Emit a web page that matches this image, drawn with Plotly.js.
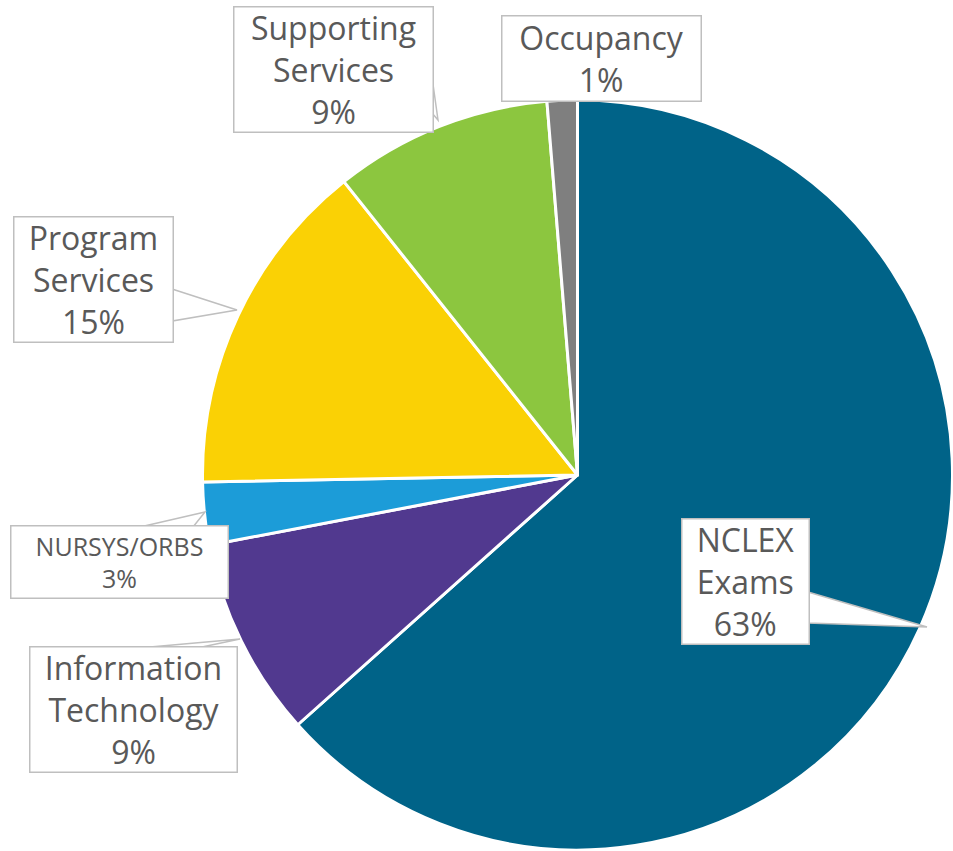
<!DOCTYPE html>
<html>
<head>
<meta charset="utf-8">
<script src="https://cdn.plot.ly/plotly-3.0.1.min.js"></script>
<style>
  html, body { margin: 0; padding: 0; background: #fff; }
  #chart { width: 953px; height: 851px; }
</style>
</head>
<body>
<div id="chart"></div>
<script>
const labels = ["NCLEX Exams", "Information Technology", "NURSYS/ORBS", "Program Services", "Supporting Services", "Occupancy"];
const values = [63.4, 8.6, 2.7, 14.6, 9.4, 1.3];
const colors = ["#006388", "#51398F", "#1C9CD8", "#FAD105", "#8CC63F", "#7F7F7F"];

// callout boxes in pixels: [cx, cy, w, h, fontSize], wedge = points in pixels
const callouts = [
  { box: [745, 581, 128, 126, 32], wedge: [[808, 592], [927, 627], [808, 623]] },
  { box: [133, 709, 208, 126, 32], wedge: [[150, 647], [240, 639], [202, 647]] },
  { box: [120, 562, 218, 73, 25], wedge: [[140, 527], [205, 512], [193, 527]] },
  { box: [93, 279, 160, 126, 32], wedge: [[172, 289], [237, 310], [172, 321]] },
  { box: [333, 69, 200, 126, 32], wedge: [[432, 77], [438, 120], [432, 113]] },
  { box: [601, 59, 200, 86, 32], wedge: null },
];

const W = 953, H = 851;
const px = (x) => x / W;
const py = (y) => 1 - y / H;

const total = values.reduce((a, b) => a + b, 0);

const annotations = labels.map((name, i) => {
  const [cx, cy, w, h, fs] = callouts[i].box;
  const pct = Math.round((values[i] / total) * 100) + "%";
  return {
    xref: "paper",
    yref: "paper",
    x: px(cx),
    y: py(cy),
    xanchor: "center",
    yanchor: "middle",
    text: name.replace(" ", "<br>") + "<br>" + pct,
    showarrow: false,
    width: w - 2,
    height: h - 2,
    bgcolor: "#ffffff",
    bordercolor: "#BFBFBF",
    borderwidth: 1.5,
    borderpad: 0,
    font: { family: "Open Sans", size: fs, color: "#595959" },
  };
});

const shapes = callouts
  .filter((c) => c.wedge)
  .map((c) => ({
    type: "path",
    xref: "paper",
    yref: "paper",
    path: c.wedge.map((p, k) => (k === 0 ? "M" : "L") + px(p[0]) + "," + py(p[1])).join(" ") + " Z",
    fillcolor: "#ffffff",
    line: { color: "#BFBFBF", width: 1.5 },
    layer: "above",
  }));

const trace = {
  type: "pie",
  labels: labels,
  values: values,
  sort: false,
  direction: "clockwise",
  rotation: 0,
  textinfo: "none",
  hoverinfo: "none",
  marker: { colors: colors, line: { color: "#ffffff", width: 3 } },
  domain: { x: [202.5 / W, 952.5 / W], y: [1 - 850 / H, 1 - 100 / H] },
};

const layout = {
  width: W,
  height: H,
  margin: { l: 0, r: 0, t: 0, b: 0 },
  showlegend: false,
  paper_bgcolor: "#ffffff",
  annotations: annotations,
  shapes: shapes,
};

Plotly.newPlot("chart", [trace], layout, { displayModeBar: false, staticPlot: true });
</script>
</body>
</html>
